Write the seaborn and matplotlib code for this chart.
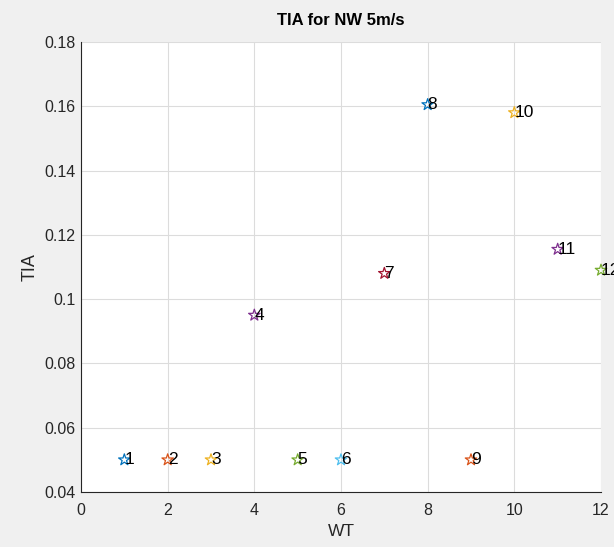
import numpy as np
import pandas as pd
import seaborn as sns
import matplotlib.pyplot as plt

# --- dados ---
turbinas = [1, 2, 3, 4, 5, 6, 7, 8, 9, 10, 11, 12]
tia = [0.050, 0.050, 0.050, 0.095, 0.050, 0.050, 0.108, 0.1605, 0.050, 0.158, 0.1155, 0.109]
rotulos = [str(t) for t in turbinas]

# cores padrão do MATLAB (ciclo de 7)
cores_matlab = ['#0072BD', '#D95319', '#EDB120', '#7E2F8E', '#77AC30', '#4DBEEE', '#A2142F']

x_ticks = [0, 2, 4, 6, 8, 10, 12]
y_ticks = [0.04, 0.06, 0.08, 0.10, 0.12, 0.14, 0.16, 0.18]
y_ticklabels = ['0.04', '0.06', '0.08', '0.1', '0.12', '0.14', '0.16', '0.18']

df = pd.DataFrame({'WT': turbinas, 'TIA': tia, 'rotulo': rotulos})

sns.set_style('white')
plt.rcParams['font.family'] = ['Liberation Sans', 'DejaVu Sans']

fig = plt.figure(figsize=(6.14, 5.47), dpi=100, facecolor='#f0f0f0')
ax = fig.add_axes([81 / 614, 55 / 547, 520 / 614, 450 / 547])
ax.set_facecolor('white')

paleta = [cores_matlab[i % 7] for i in range(len(turbinas))]
for i, linha in df.iterrows():
    ax.scatter(linha['WT'], linha['TIA'], marker='*', s=75, facecolors='none',
               edgecolors=paleta[i], linewidths=0.9, zorder=3, clip_on=False)
    ax.text(linha['WT'], linha['TIA'], linha['rotulo'], fontsize=12.5, color='black',
            ha='left', va='center', clip_on=False, zorder=4)

ax.set_xlim(0, 12)
ax.set_ylim(0.04, 0.18)
ax.set_xticks(x_ticks)
ax.set_yticks(y_ticks)
ax.set_yticklabels(y_ticklabels)
ax.grid(True, color='#dcdcdc', linewidth=0.8)
ax.set_axisbelow(True)

sns.despine(ax=ax, top=True, right=True)
for lado in ['left', 'bottom']:
    ax.spines[lado].set_color('#262626')
    ax.spines[lado].set_linewidth(0.8)
ax.tick_params(direction='in', length=4, width=0.8, color='#262626',
               labelcolor='#262626', labelsize=11.5)
ax.tick_params(axis='x', pad=8)
ax.tick_params(axis='y', pad=4)

ax.set_xlabel('WT', fontsize=12.5, color='#262626', labelpad=4)
ax.set_ylabel('TIA', fontsize=13, color='#262626', labelpad=4)
ax.set_title('TIA for NW 5m/s', fontsize=12, fontweight='bold', color='black', pad=12)

plt.savefig('out.png', dpi=100, facecolor=fig.get_facecolor())
